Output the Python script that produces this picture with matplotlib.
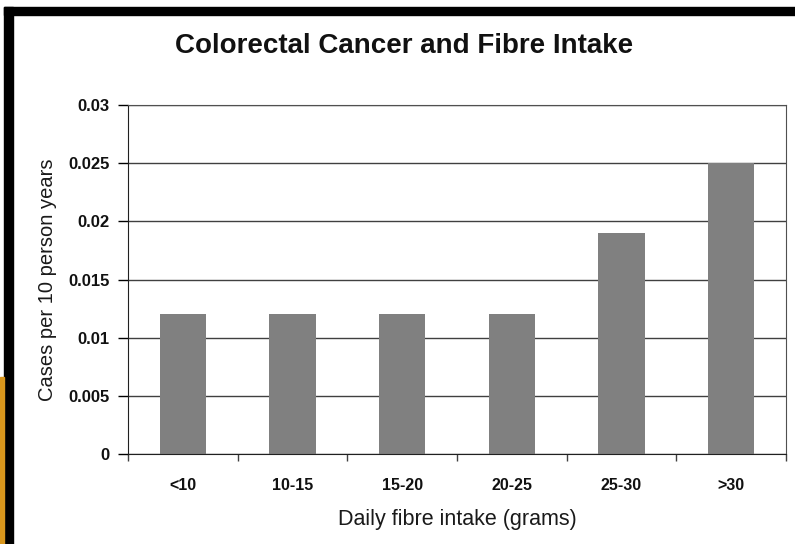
import numpy as np
import matplotlib
matplotlib.use("Agg")
import matplotlib.pyplot as plt
from matplotlib.patches import Rectangle

categories = ["<10", "10-15", "15-20", "20-25", "25-30", ">30"]
cases = [0.012, 0.012, 0.012, 0.012, 0.019, 0.025]
yticks = [0, 0.005, 0.01, 0.015, 0.02, 0.025, 0.03]
ytick_labels = ["0", "0.005", "0.01", "0.015", "0.02", "0.025", "0.03"]

plt.rcParams['font.family'] = ['Liberation Sans', 'DejaVu Sans']

W, H = 795, 544
fig = plt.figure(figsize=(W / 100, H / 100), dpi=100)

# frame decoration round the slide
fig.patches.append(Rectangle((4 / W, 0), 9 / W, (H - 7) / H, transform=fig.transFigure,
                             color='black', zorder=0))
fig.patches.append(Rectangle((4 / W, (H - 15) / H), (W - 4) / W, 8 / H, transform=fig.transFigure,
                             color='black', zorder=0))
fig.patches.append(Rectangle((0, 0), 4 / W, (H - 377) / H, transform=fig.transFigure,
                             color='#D9961C', zorder=0))

ax = fig.add_axes([128 / W, (H - 454) / H, (786 - 128) / W, (454 - 105) / H])

x = np.arange(len(categories))
ax.bar(x, cases, width=0.42, color='#808080', zorder=2)

ax.set_xlim(-0.5, len(categories) - 0.5)
ax.set_ylim(0, 0.03)
ax.set_yticks(yticks)
ax.set_yticklabels(ytick_labels, fontsize=12, fontweight='bold', color='#111111')
ax.set_xticks(x)
ax.set_xticklabels(categories, fontsize=11.5, fontweight='bold', color='#111111')
ax.tick_params(axis='x', which='major', length=0, pad=17)
ax.set_xticks(np.arange(-0.5, len(categories)), minor=True)
ax.tick_params(axis='x', which='minor', length=5, width=1, color='#404040')
ax.tick_params(axis='y', length=7, width=1, pad=6)

ax.grid(axis='y', color='#404040', linewidth=1, zorder=1)
for side in ['top', 'right']:
    ax.spines[side].set_color('#505050')
ax.spines['left'].set_color('#202020')
ax.spines['bottom'].set_color('#202020')

fig.text(404 / W, 1 - 46 / H, "Colorectal Cancer and Fibre Intake", fontsize=20,
         fontweight='bold', ha='center', va='center', color='#111111')
ax.set_xlabel("Daily fibre intake (grams)", fontsize=15.5, labelpad=12, color='#1a1a1a')
ax.set_ylabel("Cases per 10 person years", fontsize=14.5, labelpad=8, color='#1a1a1a')

fig.savefig("out.png", dpi=100)
